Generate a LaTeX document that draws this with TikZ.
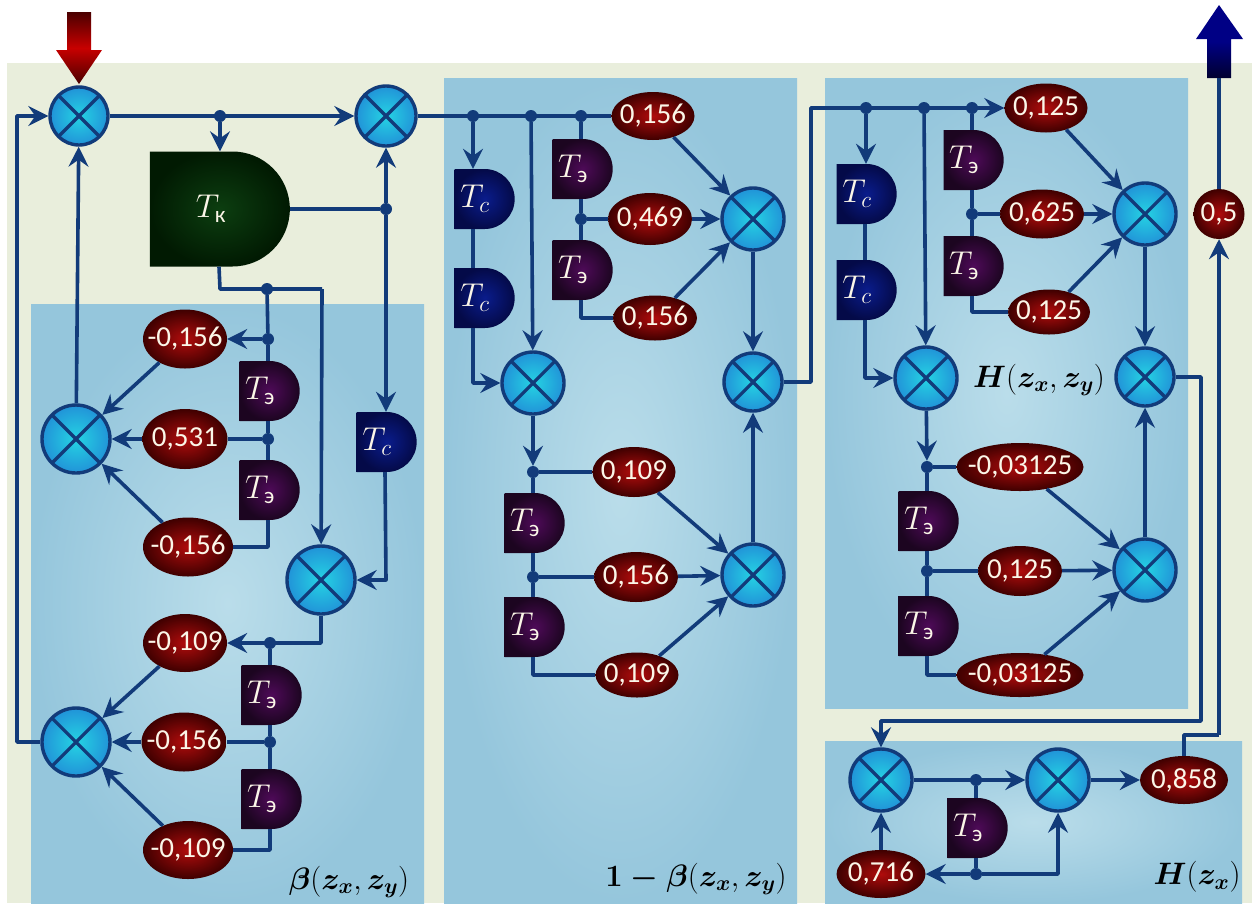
\documentclass[tikz,border=0pt]{standalone}
\usepackage{fix-cm}
\usepackage{amsmath}
\usepackage{fontspec}
\setmainfont{Carlito}
\usetikzlibrary{arrows.meta,shapes.geometric,shapes.misc}

\definecolor{wirec}{HTML}{123B7A}
\definecolor{creamc}{HTML}{FBF6E8}
\definecolor{backc}{HTML}{E9EEDC}
\definecolor{panelc}{HTML}{BADDEA}
\definecolor{paneld}{HTML}{95C6DC}
\definecolor{multi}{HTML}{25D3E3}
\definecolor{multo}{HTML}{2193D8}
\definecolor{gaini}{HTML}{B00C0C}
\definecolor{gaino}{HTML}{3F0000}
\definecolor{tei}{HTML}{4E0A58}
\definecolor{teo}{HTML}{1C0520}
\definecolor{tci}{HTML}{0A1C8C}
\definecolor{tco}{HTML}{040A48}
\definecolor{tki}{HTML}{0C3E10}
\definecolor{tko}{HTML}{011A02}
\definecolor{redd}{HTML}{4A0000}
\definecolor{redm}{HTML}{C80000}
\definecolor{blum}{HTML}{000085}
\definecolor{blud}{HTML}{000030}
\newcommand{\gv}[1]{\makebox[0pt]{#1}}
\newcommand{\dl}[1]{\makebox[0pt]{$#1$\hspace*{16pt}}}

\tikzset{
  panel/.style={inner color=panelc,outer color=paneld},
  wire/.style={draw=wirec,line width=3.6pt,line join=round,>={Stealth[length=20pt,width=20pt,inset=7pt]}},
  dot/.style={circle,fill=wirec,inner sep=0pt,minimum size=12pt},
  mult/.style={circle,draw=wirec,line width=3.4pt,inner sep=0pt,minimum size=2*#1 pt,inner color=multi,outer color=multo,
    path picture={\draw[wirec,line width=3.2pt] (path picture bounding box.north west) -- (path picture bounding box.south east) (path picture bounding box.north east) -- (path picture bounding box.south west);}},
  gain/.style 2 args={ellipse,inner sep=0pt,minimum width=#1pt,minimum height=#2pt,inner color=gaini,outer color=gaino,text=creamc,font=\fontsize{29}{31}\selectfont},
  delay/.style={rounded rectangle,rounded rectangle left arc=none,inner sep=0pt,minimum width=60pt,minimum height=60pt,text=creamc,font=\fontsize{33}{36}\selectfont},
  te/.style={delay,inner color=tei,outer color=teo},
  tc/.style={delay,inner color=tci,outer color=tco},
  lbl/.style={inner sep=0pt,font=\fontsize{31}{34}\selectfont}
}

\begin{document}
\begin{tikzpicture}[x=1pt,y=-1pt]
\useasboundingbox (0,0) rectangle (1257,903);
\fill[white] (0,0) rectangle (1257,903);
\fill[backc] (7,63) rectangle (1252,903);
\shade[panel] (31,304) rectangle (424,903);
\shade[panel] (444,78) rectangle (797,903);
\shade[panel] (825,78) rectangle (1188,708);
\shade[panel] (825,741) rectangle (1242,903);

\shade[top color=redd,bottom color=redd,middle color=redm] (67,12) -- (91,12) -- (91,50) -- (102,50) -- (79,84) -- (56,50) -- (67,50) -- cycle;
\shade[top color=blum,bottom color=blud,middle color=blum] (1207,78) -- (1231,78) -- (1231,39) -- (1243,39) -- (1219,5) -- (1196,39) -- (1207,39) -- cycle;

\node[mult=29] (m1) at (79,116) {};
\node[mult=30] (m2) at (386,116) {};
\node[mult=34] (m3) at (76,439) {};
\node[mult=34] (m4) at (321,580) {};
\node[mult=34] (m5) at (76,742) {};
\node[mult=31] (m6) at (533,383) {};
\node[mult=31] (m7) at (753,219) {};
\node[mult=29] (m8) at (753,382) {};
\node[mult=31] (m9) at (753,575) {};
\node[mult=31] (m10) at (926,378) {};
\node[mult=31] (m11) at (1145,214) {};
\node[mult=29] (m12) at (1145,377) {};
\node[mult=31] (m13) at (1145,570) {};
\node[mult=31] (m14) at (881,780) {};
\node[mult=31] (m15) at (1058,780) {};

\node[gain={84}{59}] (g1) at (185,339) {\gv{-0,156}};
\node[gain={85}{60}] (g2) at (185,439) {\gv{0,531}};
\node[gain={90}{59}] (g3) at (188,547) {\gv{-0,156}};
\node[gain={84}{58}] (g4) at (185,643) {\gv{-0,109}};
\node[gain={85}{59}] (g5) at (184,742) {\gv{-0,156}};
\node[gain={90}{58}] (g6) at (188,850) {\gv{-0,109}};
\node[gain={83}{48}] (g7) at (653,116) {\gv{0,156}};
\node[gain={84}{52}] (g8) at (650,219) {\gv{0,469}};
\node[gain={84}{45}] (g9) at (655,318) {\gv{0,156}};
\node[gain={83}{50}] (g10) at (634,472) {\gv{0,109}};
\node[gain={84}{50}] (g11) at (636,577) {\gv{0,156}};
\node[gain={83}{45}] (g12) at (637,675) {\gv{0,109}};
\node[gain={83}{49}] (g13) at (1046,108) {\gv{0,125}};
\node[gain={84}{49}] (g14) at (1042,214) {\gv{0,625}};
\node[gain={82}{45}] (g15) at (1049,312) {\gv{0,125}};
\node[gain={127}{48}] (g16) at (1020,467) {\gv{-0,03125}};
\node[gain={84}{50}] (g17) at (1020,571) {\gv{0,125}};
\node[gain={127}{44}] (g18) at (1020,675) {\gv{-0,03125}};
\node[gain={89}{48}] (g19) at (881,874) {\gv{0,716}};
\node[gain={88}{48}] (g20) at (1184,780) {\gv{0,858}};
\node[gain={51}{50}] (g21) at (1219,214) {\gv{0,5}};

\node[delay,minimum width=140pt,minimum height=115pt,inner color=tki,outer color=tko] (tk) at (219,209) {\dl{T_{\text{к}}}};
\node[te] (e1) at (268,391) {\dl{T_{\text{э}}}};
\node[te] (e2) at (268,490) {\dl{T_{\text{э}}}};
\node[te] (e3) at (270,695) {\dl{T_{\text{э}}}};
\node[te] (e4) at (270,799) {\dl{T_{\text{э}}}};
\node[te] (e5) at (581,169) {\dl{T_{\text{э}}}};
\node[te] (e6) at (581,270) {\dl{T_{\text{э}}}};
\node[te] (e7) at (533,523) {\dl{T_{\text{э}}}};
\node[te] (e8) at (533,627) {\dl{T_{\text{э}}}};
\node[te] (e9) at (972,160) {\dl{T_{\text{э}}}};
\node[te] (e10) at (972,266) {\dl{T_{\text{э}}}};
\node[te] (e11) at (927,521) {\dl{T_{\text{э}}}};
\node[te] (e12) at (927,626) {\dl{T_{\text{э}}}};
\node[te] (e13) at (976,828) {\dl{T_{\text{э}}}};
\node[tc] (c1) at (385,442) {\dl{T_c}};
\node[tc] (c2) at (483,199) {\dl{T_c}};
\node[tc] (c3) at (483,298) {\dl{T_c}};
\node[tc] (c4) at (865,194) {\dl{T_c}};
\node[tc] (c5) at (865,290) {\dl{T_c}};

\node[dot] (d1) at (220,116) {};
\node[dot] (d2) at (386,209) {};
\node[dot] (d3) at (267,289) {};
\node[dot] (d4) at (268,339) {};
\node[dot] (d5) at (268,439) {};
\node[dot] (d6) at (270,643) {};
\node[dot] (d7) at (270,742) {};
\node[dot] (d8) at (473,116) {};
\node[dot] (d9) at (531,116) {};
\node[dot] (d10) at (581,116) {};
\node[dot] (d11) at (581,219) {};
\node[dot] (d12) at (533,472) {};
\node[dot] (d13) at (533,577) {};
\node[dot] (d14) at (866,108) {};
\node[dot] (d15) at (924,108) {};
\node[dot] (d16) at (972,108) {};
\node[dot] (d17) at (972,214) {};
\node[dot] (d18) at (927,467) {};
\node[dot] (d19) at (927,571) {};
\node[dot] (d20) at (976,780) {};
\node[dot] (d21) at (976,874) {};

\coordinate (p1) at (17,742);
\coordinate (p2) at (17,116);
\coordinate (p3) at (220,289);
\coordinate (p4) at (322,289);
\coordinate (p5) at (386,580);
\coordinate (p6) at (321,643);
\coordinate (p7) at (811,382);
\coordinate (p8) at (811,108);
\coordinate (p9) at (1201,377);
\coordinate (p10) at (1201,721);
\coordinate (p11) at (881,721);
\coordinate (p12) at (1058,874);
\coordinate (p13) at (1184,735);
\coordinate (p14) at (1219,735);
\coordinate (p15) at (1219,78);

\draw[wire,->] (m5) -- (p1) -- (p2) -- (m1);
\draw[wire,->] (m1) -- (m2);
\draw[wire,->] (d1) -- (d1 |- tk.north);
\draw[wire] (tk.east) -- (d2);
\draw[wire,->] (d2) -- (m2);
\draw[wire,->] (d2) -- (d2 |- c1.north);
\draw[wire] (tk.south) -- (p3) -- (p4);
\draw[wire,->] (p4) -- (m4);
\draw[wire] (d3) -- (d4) -- (d4 |- e1.north);
\draw[wire,->] (d4) -- (g1);
\draw[wire] (e1.south) -- (d5) -- (d5 |- e2.north);
\draw[wire] (d5) -- (g2);
\draw[wire] (e2.south) |- (g3);
\draw[wire,->] (g1) -- (m3);
\draw[wire,->] (g2) -- (m3);
\draw[wire,->] (g3) -- (m3);
\draw[wire,->] (m3) -- (m1);
\draw[wire,->] (c1.south) -- (p5) -- (m4);
\draw[wire,->] (m4) -- (p6) -- (g4);
\draw[wire] (d6) -- (d6 |- e3.north);
\draw[wire] (e3.south) -- (d7) -- (d7 |- e4.north);
\draw[wire] (d7) -- (g5);
\draw[wire] (e4.south) |- (g6);
\draw[wire,->] (g4) -- (m5);
\draw[wire,->] (g5) -- (m5);
\draw[wire,->] (g6) -- (m5);

\draw[wire] (m2) -- (g7);
\draw[wire,->] (d8) -- (d8 |- c2.north);
\draw[wire] (c2.south -| d8) -- (c3.north -| d8);
\draw[wire,->] (c3.south -| d8) |- (m6);
\draw[wire,->] (d9) -- (m6);
\draw[wire] (d10) -- (d10 |- e5.north);
\draw[wire] (e5.south) -- (d11) -- (d11 |- e6.north);
\draw[wire] (d11) -- (g8);
\draw[wire] (e6.south) |- (g9);
\draw[wire,->] (g7) -- (m7);
\draw[wire,->] (g8) -- (m7);
\draw[wire,->] (g9) -- (m7);
\draw[wire,->] (m7) -- (m8);
\draw[wire,->] (m6) -- (d12);
\draw[wire] (d12) -- (g10);
\draw[wire] (d12) -- (d12 |- e7.north);
\draw[wire] (e7.south) -- (d13) -- (d13 |- e8.north);
\draw[wire] (d13) -- (g11);
\draw[wire] (e8.south) |- (g12);
\draw[wire,->] (g10) -- (m9);
\draw[wire,->] (g11) -- (m9);
\draw[wire,->] (g12) -- (m9);
\draw[wire,->] (m9) -- (m8);

\draw[wire,->] (m8) -- (p7) -- (p8) -- (g13);
\draw[wire,->] (d14) -- (d14 |- c4.north);
\draw[wire] (c4.south) -- (c5.north);
\draw[wire,->] (c5.south) |- (m10);
\draw[wire,->] (d15) -- (m10);
\draw[wire] (d16) -- (d16 |- e9.north);
\draw[wire] (e9.south) -- (d17) -- (d17 |- e10.north);
\draw[wire] (d17) -- (g14);
\draw[wire] (e10.south) |- (g15);
\draw[wire,->] (g13) -- (m11);
\draw[wire,->] (g14) -- (m11);
\draw[wire,->] (g15) -- (m11);
\draw[wire,->] (m11) -- (m12);
\draw[wire,->] (m10) -- (d18);
\draw[wire] (d18) -- (g16);
\draw[wire] (d18) -- (d18 |- e11.north);
\draw[wire] (e11.south) -- (d19) -- (d19 |- e12.north);
\draw[wire] (d19) -- (g17);
\draw[wire] (e12.south) |- (g18);
\draw[wire,->] (g16) -- (m13);
\draw[wire,->] (g17) -- (m13);
\draw[wire,->] (g18) -- (m13);
\draw[wire,->] (m13) -- (m12);

\draw[wire,->] (m12) -- (p9) -- (p10) -- (p11) -- (m14);
\draw[wire,->] (m14) -- (m15);
\draw[wire] (d20) -- (d20 |- e13.north);
\draw[wire] (e13.south) -- (d21);
\draw[wire,->] (d21) -- (g19);
\draw[wire,->] (d21) -- (p12) -- (m15);
\draw[wire,->] (g19) -- (m14);
\draw[wire,->] (m15) -- (g20);
\draw[wire] (g20) -- (p13) -- (p14);
\draw[wire,->] (p14) -- (g21);
\draw[wire] (g21) -- (p15);

\node[lbl] (t1) at (349,882) {$\boldsymbol{\beta}(\boldsymbol{z_x},\boldsymbol{z_y})$};
\node[lbl] (t2) at (696,879) {$\boldsymbol{1-\beta}(\boldsymbol{z_x},\boldsymbol{z_y})$};
\node[lbl] (t3) at (1039,380) {$\boldsymbol{H}(\boldsymbol{z_x},\boldsymbol{z_y})$};
\node[lbl] (t4) at (1197,877) {$\boldsymbol{H}(\boldsymbol{z_x})$};
\end{tikzpicture}
\end{document}
